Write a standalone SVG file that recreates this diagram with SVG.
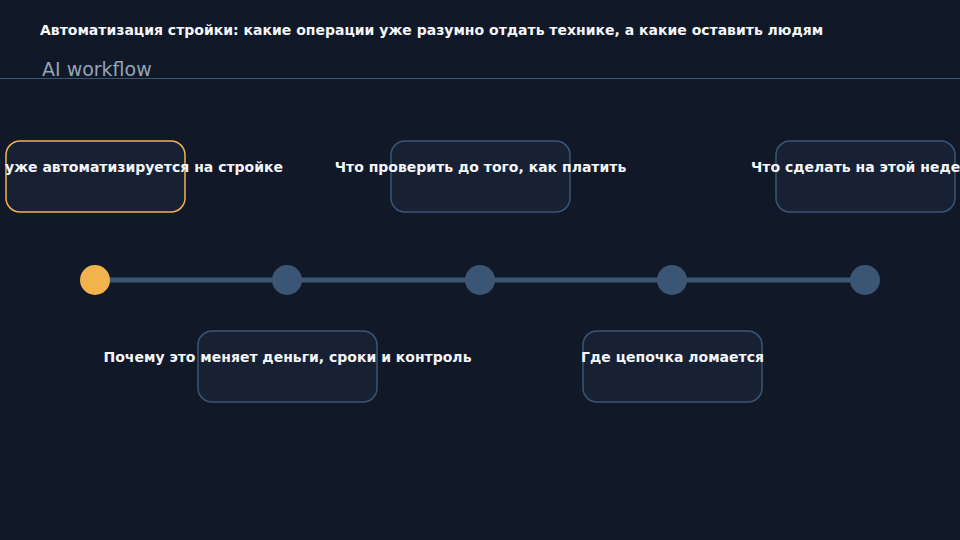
<svg xmlns="http://www.w3.org/2000/svg" width="960" height="540" viewBox="0 0 960 540">
<style>
.bg{fill:#111827}
.box{fill:#172133;stroke:#3b5575;stroke-width:1.5}
.box.active{stroke:#f2b24c}
.lbl{font-family:"DejaVu Sans",sans-serif;font-weight:bold;font-size:14px;fill:#f4f6fa}
.dot{fill:#3b5575}
.dot.active{fill:#f2b24c}
</style>
<rect class="bg" x="0" y="0" width="960" height="540"/>
<g id="header">
<text x="40" y="35" font-family="'DejaVu Sans',sans-serif" font-weight="bold" font-size="14" fill="#f4f6fa">Автоматизация стройки: какие операции уже разумно отдать технике, а какие оставить людям</text>
<text x="42" y="76" font-family="'DejaVu Sans',sans-serif" font-size="19" fill="#94a3b8">AI workflow</text>
<line x1="0" y1="78.5" x2="960" y2="78.5" stroke="#3b5575" stroke-width="1"/>
</g>
<g id="connectors">
<line x1="95" y1="280" x2="865" y2="280" stroke="#3b5575" stroke-width="5"/>
</g>
<g id="step1">
<circle class="dot active" cx="95" cy="280" r="15"/>
<rect class="box active" x="6" y="141" width="179" height="71" rx="14"/>
<text class="lbl" x="5" y="172">уже автоматизируется на стройке</text>
</g>
<g id="step2">
<circle class="dot" cx="287" cy="280" r="15"/>
<rect class="box" x="198" y="331" width="179" height="71" rx="14"/>
<text class="lbl" x="287.5" y="362" text-anchor="middle">Почему это меняет деньги, сроки и контроль</text>
</g>
<g id="step3">
<circle class="dot" cx="480" cy="280" r="15"/>
<rect class="box" x="391" y="141" width="179" height="71" rx="14"/>
<text class="lbl" x="480.5" y="172" text-anchor="middle">Что проверить до того, как платить</text>
</g>
<g id="step4">
<circle class="dot" cx="672" cy="280" r="15"/>
<rect class="box" x="583" y="331" width="179" height="71" rx="14"/>
<text class="lbl" x="672.5" y="362" text-anchor="middle">Где цепочка ломается</text>
</g>
<g id="step5">
<circle class="dot" cx="865" cy="280" r="15"/>
<rect class="box" x="776" y="141" width="179" height="71" rx="14"/>
<text class="lbl" x="751" y="172">Что сделать на этой неде</text>
</g>
</svg>
